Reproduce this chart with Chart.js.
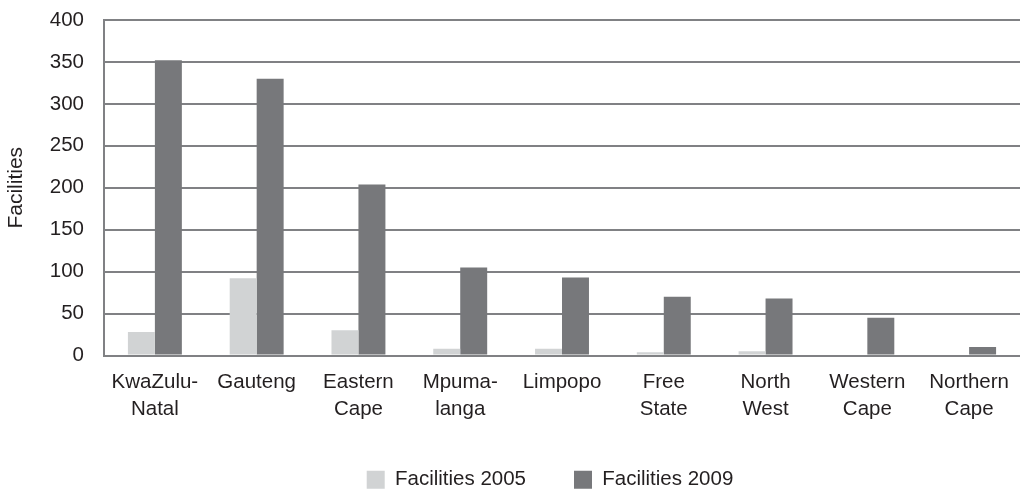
<!DOCTYPE html>
<html>
<head>
<meta charset="utf-8">
<script src="https://cdn.jsdelivr.net/npm/chart.js@4/dist/chart.umd.min.js"></script>
<style>
  html, body { margin: 0; padding: 0; background: #fff; }
  #wrap { width: 1025px; height: 490px; }
</style>
</head>
<body>
<div id="wrap"><canvas id="myChart" width="1025" height="490"></canvas></div>
<script>
// provinces (two-line labels as in the original)
let provinces = [
  ["KwaZulu-", "Natal"], "Gauteng", ["Eastern", "Cape"], ["Mpuma-", "langa"],
  "Limpopo", ["Free", "State"], ["North", "West"], ["Western", "Cape"], ["Northern", "Cape"]
];
let facilities2005 = [28, 92, 30, 8, 8, 4, 5, 0, 0];
let facilities2009 = [352, 330, 204, 105, 93, 70, 68, 45, 10];
let yTicks = [0, 50, 100, 150, 200, 250, 300, 350, 400];

let lineGrey = "#808184";
let textColor = "#231f20";
let font = "'Liberation Sans', Arial, sans-serif";

Chart.defaults.font.family = font;
Chart.defaults.color = textColor;

// legend sits a little left of the plot centre in the original
const legendShift = {
  id: "legendShift",
  beforeDraw(chart) {
    if (!chart.$shifted) {
      chart.legend.left -= 12;
      chart.legend.right -= 12;
      chart.$shifted = true;
    }
  }
};

new Chart("myChart", {
  type: "bar",
  data: {
    labels: provinces,
    datasets: [
      { label: "Facilities 2005", data: facilities2005, backgroundColor: "#d1d3d4",
        categoryPercentage: 0.53, barPercentage: 1 },
      { label: "Facilities 2009", data: facilities2009, backgroundColor: "#77787b",
        categoryPercentage: 0.53, barPercentage: 1 }
    ]
  },
  options: {
    responsive: false,
    animation: false,
    layout: { padding: { top: 20, right: 5, left: 0, bottom: -10 } },
    plugins: {
      tooltip: { enabled: false },
      legend: {
        position: "bottom",
        fullSize: false,
        labels: {
          boxWidth: 18, boxHeight: 18, padding: 48,
          font: { size: 20.5 }, color: textColor
        }
      }
    },
    scales: {
      x: {
        afterFit: function (scale) { scale.height = 66; },
        grid: { display: false, drawTicks: false },
        border: { display: false },
        ticks: { padding: 14, font: { size: 20.5, lineHeight: 1.3 }, color: textColor, maxRotation: 0, autoSkip: false }
      },
      y: {
        min: 0, max: 400,
        afterBuildTicks: function (scale) {
          scale.ticks = yTicks.map(function (v) { return { value: v }; });
        },
        afterFit: function (scale) {
          scale.width = 104;
          scale.paddingTop = 0;
          scale.paddingBottom = 0;
        },
        grid: { color: lineGrey, lineWidth: 2, drawTicks: false },
        border: { display: true, color: lineGrey, width: 2 },
        ticks: { padding: 20, font: { size: 20.5 }, color: textColor },
        title: { display: true, text: "Facilities", font: { size: 21 }, color: textColor,
                 padding: { top: 4, bottom: 0 } }
      }
    }
  },
  plugins: [legendShift]
});
</script>
</body>
</html>
